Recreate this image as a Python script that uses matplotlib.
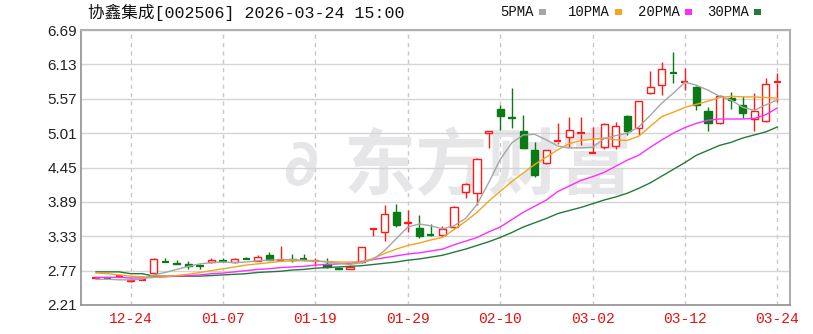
import matplotlib
matplotlib.use("Agg")
import matplotlib.pyplot as plt
from matplotlib.patches import Rectangle
import numpy as np

plt.rcParams["font.family"] = ["Noto Sans CJK SC", "DejaVu Sans"]

# trading days shown on the chart
dates = ["12-19", "12-22", "12-23", "12-24", "12-25", "12-26", "12-29", "12-30", "12-31",
         "01-05", "01-06", "01-07", "01-08", "01-09", "01-12", "01-13", "01-14", "01-15",
         "01-16", "01-19", "01-20", "01-21", "01-22", "01-23", "01-26", "01-27", "01-28",
         "01-29", "01-30", "02-02", "02-03", "02-04", "02-05", "02-06", "02-09", "02-10",
         "02-11", "02-12", "02-13", "02-24", "02-25", "02-26", "02-27", "03-02", "03-03",
         "03-04", "03-05", "03-06", "03-09", "03-10", "03-11", "03-12", "03-13", "03-16",
         "03-17", "03-18", "03-19", "03-20", "03-23", "03-24"]
tick_labels = ["12-24", "01-07", "01-19", "01-29", "02-10", "03-02", "03-12", "03-24"]

opens = [2.65, 2.66, 2.68, 2.60, 2.62, 2.73, 2.92, 2.90, 2.87, 2.85,
         2.91, 2.93, 2.91, 2.96, 2.93, 3.02, 2.94, 2.96, 2.96, 2.93,
         2.88, 2.82, 2.80, 2.91, 3.45, 3.40, 3.72, 3.55, 3.46, 3.36,
         3.35, 3.48, 4.05, 4.03, 5.02, 5.40, 5.28, 5.04, 4.73, 4.52,
         4.87, 4.94, 5.00, 4.68, 4.78, 4.80, 5.29, 5.09, 5.66, 5.79,
         6.00, 5.83, 5.76, 5.37, 5.17, 5.58, 5.47, 5.24, 5.21, 5.83]
highs = [2.67, 2.67, 2.69, 2.63, 2.64, 2.97, 2.97, 2.95, 2.92, 2.88,
         2.98, 2.97, 2.97, 3.00, 3.03, 3.07, 3.17, 3.04, 3.04, 2.98,
         2.98, 2.83, 2.86, 3.16, 3.46, 3.84, 3.86, 3.76, 3.67, 3.53,
         3.50, 3.82, 4.19, 4.60, 5.05, 5.47, 5.74, 5.30, 4.86, 4.74,
         5.17, 5.27, 5.27, 5.11, 5.17, 5.19, 5.30, 5.54, 6.02, 6.17,
         6.33, 6.07, 5.77, 5.43, 5.63, 5.68, 5.62, 5.66, 5.91, 5.99]
lows = [2.64, 2.65, 2.67, 2.59, 2.62, 2.72, 2.91, 2.88, 2.80, 2.80,
        2.90, 2.91, 2.90, 2.94, 2.92, 2.94, 2.94, 2.91, 2.93, 2.85,
        2.82, 2.79, 2.79, 2.90, 3.34, 3.25, 3.48, 3.40, 3.30, 3.34,
        3.33, 3.45, 3.95, 3.84, 4.76, 5.06, 5.09, 4.76, 4.30, 4.51,
        4.84, 4.79, 4.81, 4.68, 4.75, 4.75, 4.98, 4.98, 5.65, 5.63,
        5.83, 5.71, 5.39, 5.04, 5.16, 5.40, 5.26, 5.04, 5.19, 5.52]
closes = [2.66, 2.65, 2.69, 2.62, 2.63, 2.96, 2.91, 2.88, 2.85, 2.84,
          2.95, 2.92, 2.96, 2.95, 3.00, 2.95, 2.95, 2.94, 2.95, 2.93,
          2.83, 2.80, 2.83, 3.15, 3.46, 3.70, 3.51, 3.57, 3.34, 3.35,
          3.45, 3.80, 4.18, 4.59, 5.04, 5.29, 5.26, 4.77, 4.33, 4.73,
          4.89, 5.06, 5.02, 4.69, 5.16, 5.12, 5.04, 5.53, 5.76, 6.05,
          5.98, 5.85, 5.47, 5.17, 5.61, 5.55, 5.34, 5.37, 5.81, 5.85]

ma5 = [2.63, 2.63, 2.62, 2.62, 2.63, 2.70, 2.74, 2.79, 2.84, 2.88,
       2.90, 2.91, 2.90, 2.91, 2.93, 2.94, 2.95, 2.95, 2.94, 2.93,
       2.91, 2.89, 2.87, 2.90, 2.95, 3.10, 3.29, 3.48, 3.53, 3.50,
       3.45, 3.50, 3.62, 3.85, 4.20, 4.58, 4.85, 4.98, 4.99, 4.90,
       4.80, 4.77, 4.77, 4.78, 4.92, 4.97, 5.01, 5.11, 5.30, 5.50,
       5.66, 5.84, 5.79, 5.71, 5.61, 5.55, 5.43, 5.38, 5.47, 5.55]
ma10 = [2.73, 2.72, 2.70, 2.68, 2.67, 2.66, 2.67, 2.69, 2.71, 2.74,
        2.77, 2.80, 2.83, 2.86, 2.88, 2.90, 2.92, 2.93, 2.93, 2.92,
        2.92, 2.91, 2.91, 2.91, 2.97, 3.05, 3.12, 3.18, 3.22, 3.27,
        3.31, 3.44, 3.57, 3.72, 3.90, 4.06, 4.22, 4.36, 4.50, 4.62,
        4.74, 4.84, 4.89, 4.91, 4.93, 4.90, 4.89, 4.96, 5.12, 5.28,
        5.35, 5.43, 5.48, 5.53, 5.59, 5.61, 5.60, 5.60, 5.59, 5.58]
ma20 = [2.66, 2.66, 2.66, 2.65, 2.65, 2.66, 2.67, 2.68, 2.69, 2.70,
        2.72, 2.73, 2.75, 2.77, 2.79, 2.80, 2.82, 2.83, 2.84, 2.86,
        2.87, 2.88, 2.89, 2.92, 2.95, 2.98, 3.01, 3.04, 3.06, 3.09,
        3.12, 3.19, 3.25, 3.31, 3.40, 3.48, 3.60, 3.72, 3.82, 3.92,
        4.06, 4.15, 4.24, 4.30, 4.37, 4.47, 4.57, 4.65, 4.78, 4.90,
        5.01, 5.10, 5.17, 5.22, 5.24, 5.24, 5.24, 5.25, 5.31, 5.42]
ma30 = [2.75, 2.75, 2.75, 2.72, 2.72, 2.68, 2.68, 2.68, 2.68, 2.68,
        2.69, 2.70, 2.71, 2.72, 2.74, 2.75, 2.76, 2.78, 2.79, 2.81,
        2.82, 2.83, 2.84, 2.85, 2.87, 2.89, 2.91, 2.94, 2.96, 2.99,
        3.02, 3.07, 3.12, 3.18, 3.24, 3.31, 3.39, 3.48, 3.55, 3.62,
        3.70, 3.75, 3.80, 3.86, 3.92, 3.97, 4.03, 4.11, 4.20, 4.31,
        4.42, 4.53, 4.65, 4.73, 4.81, 4.86, 4.93, 4.98, 5.03, 5.11]

ma_names = ["5PMA", "10PMA", "20PMA", "30PMA"]
ma_colors = ["#a6a6a6", "#f5a41d", "#ff2cff", "#237a3b"]
yticks = [2.21, 2.77, 3.33, 3.89, 4.45, 5.01, 5.57, 6.13, 6.69]

RED = "#ff1a1a"
GREEN = "#0a7a14"

fig = plt.figure(figsize=(8.13, 3.34), dpi=100)
ax = fig.add_axes([81 / 813, 1 - 305 / 334, 709 / 813, 275 / 334])

x = np.arange(len(dates))
w = 0.62
for i in x:
    o, h, l, c = opens[i], highs[i], lows[i], closes[i]
    up = c >= o
    col = RED if up else GREEN
    lo_b, hi_b = min(o, c), max(o, c)
    ax.vlines(i, l, lo_b, color=col, lw=1.0, zorder=3)
    ax.vlines(i, hi_b, h, color=col, lw=1.0, zorder=3)
    if hi_b - lo_b < 0.02:
        ax.hlines((o + c) / 2, i - w / 2, i + w / 2, color=col, lw=1.6, zorder=4)
    else:
        ax.add_patch(Rectangle((i - w / 2, lo_b), w, hi_b - lo_b,
                               facecolor="white" if up else col, edgecolor=col,
                               lw=1.0, zorder=4))

for vals, col in zip([ma30, ma20, ma10, ma5], ma_colors[::-1]):
    ax.plot(x, vals, color=col, lw=1.0, zorder=5)

ax.set_xlim(-1.3, 60.1)
ax.set_ylim(2.21, 6.69)
ax.set_yticks(yticks)
ax.set_yticklabels([f"{v:.2f}" for v in yticks], family="Liberation Sans",
                   fontsize=11, color="#222222")
tick_pos = [dates.index(t) for t in tick_labels]
ax.set_xticks(tick_pos)
ax.set_xticklabels(tick_labels, family="Liberation Mono", fontsize=10.5, color="#e81010")
ax.tick_params(length=0, pad=5)
ax.tick_params(axis="y", pad=3)
ax.grid(axis="y", color="#d4d4d4", lw=1.0)
for p in tick_pos:
    ax.axvline(p, color="#c8c8c8", lw=1.0, ls=(0, (3, 3)), zorder=0)
for s in ["top", "right"]:
    ax.spines[s].set_color("#b0b0b0")
    ax.spines[s].set_linewidth(1.5)
for s in ["left", "bottom"]:
    ax.spines[s].set_color("#909090")
    ax.spines[s].set_linewidth(1.2)

# watermark
ax.text(0.37, 0.50, "东方财富", transform=ax.transAxes, fontsize=52,
        fontweight="bold", color="#e6e6e9", ha="left", va="center", zorder=1)
ax.text(0.31, 0.50, "∂", transform=ax.transAxes, fontsize=46, fontweight="bold",
        color="#e6e6e9", ha="center", va="center", zorder=1, family="DejaVu Sans")

fig.text(88 / 813, 1 - 12 / 334, "协鑫集成[002506] 2026-03-24 15:00", fontsize=12,
         color="#111111", ha="left", va="center",
         family=["Liberation Mono", "Noto Sans CJK SC"])

leg_x = [500, 568, 638, 707]
for lx, name, col in zip(leg_x, ma_names, ma_colors):
    fig.text(lx / 813, 1 - 12 / 334, name, fontsize=10, color="#111111",
             ha="left", va="center", family="Liberation Mono")
    fig.patches.append(Rectangle(((lx + 8.4 * len(name) + 5) / 813, 1 - 15 / 334),
                                 7 / 813, 6 / 334, facecolor=col, edgecolor="none",
                                 transform=fig.transFigure, figure=fig))

fig.savefig("out.png", dpi=100)
